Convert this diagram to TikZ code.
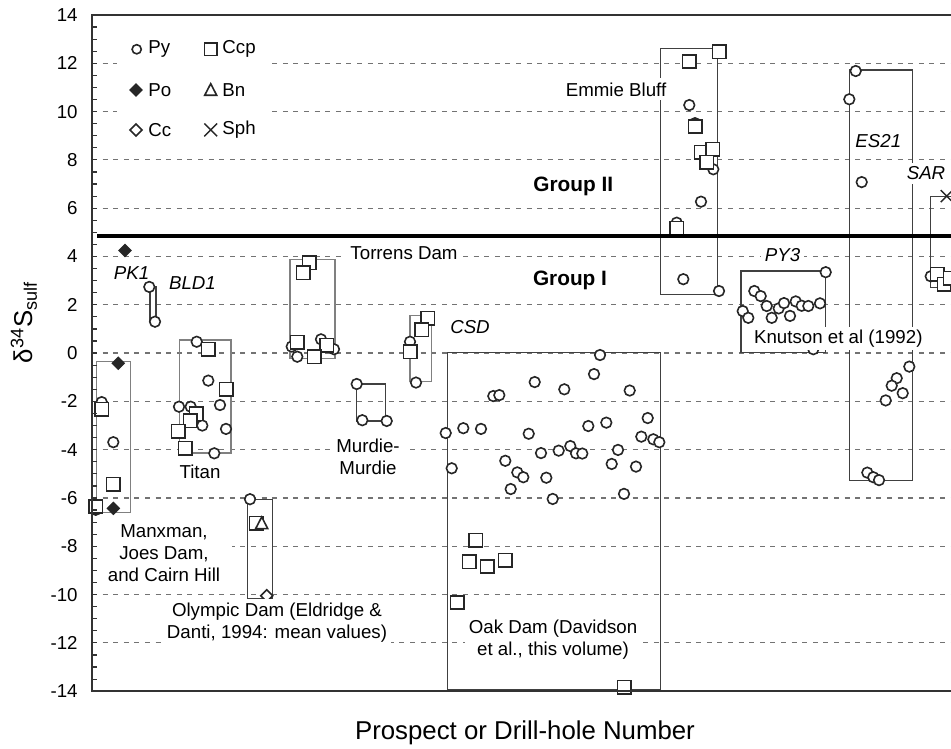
\documentclass[tikz,border=0pt]{standalone}
\usepackage{fontspec}
\setmainfont{Liberation Sans}
\tikzset{
  gridline/.style={black!55, line width=0.6pt, dash pattern=on 2.5pt off 2.8pt},
  holebox/.style={black!75, line width=0.55pt},
  lightbox/.style={black!50, line width=0.6pt},
  pymark/.style={draw=black!85, fill=white, line width=0.8pt},
  ccpmark/.style={draw=black!85, fill=white, line width=0.8pt},
  pomark/.style={draw=black!85, fill=black!85, line width=0.6pt},
  openmark/.style={draw=black!85, fill=white, line width=0.8pt},
  sphmark/.style={draw=black!85, line width=0.7pt},
  label/.style={inner sep=1.5pt},
  whitelabel/.style={fill=white, inner sep=2pt, align=center},
  holename/.style={inner sep=1pt, font=\fontsize{9.35}{11}\selectfont\itshape},
}
\begin{document}
\begin{tikzpicture}[x=0.5pt, y=12.075pt, font=\fontsize{9.35}{11}\selectfont]
        \useasboundingbox (0,-16.393) rectangle (951,14.621);
        \clip (0,-16.393) rectangle (951,14.621);

        \foreach \g in {-12,-10,...,12}
            \draw[gridline] (92,\g) -- (951,\g);% dashed grid
        \fill[white] (117,13.3) rectangle (272,8.5);% legend background

        \draw[holebox] (150,2.74) rectangle (156,1.3);% BLD1
        \draw[lightbox] (96.7,-0.36) rectangle (130.7,-6.6);% Manxman
        \draw[lightbox] (179.3,0.54) rectangle (231,-4.14);% Titan
        \draw[lightbox] (290,3.86) rectangle (335,-0.22);% Torrens Dam
        \draw[lightbox] (410,1.57) rectangle (431.7,-1.18);% CSD
        \draw[holebox] (356.7,-1.28) rectangle (385.7,-2.81);% Murdie-Murdie
        \draw[holebox] (247.3,-6.05) rectangle (272.3,-10.15);% Olympic Dam
        \draw[holebox] (447.3,0.01) rectangle (660.7,-13.95);% Oak Dam
        \draw[holebox] (660.7,12.62) rectangle (717.7,2.43);% Emmie Bluff
        \draw[holebox] (741,3.4) rectangle (825.7,0.02);% PY3
        \draw[holebox] (849.3,11.72) rectangle (912.3,-5.28);% ES21
        \draw[holebox] (930.7,6.5) rectangle (990,2.7);% SAR

        % pyrite
        \foreach \x/\y in {101.7/-2.03, 113.3/-3.69, 95.7/-6.49, 149.3/2.74, 155/1.3,
            196.7/0.47, 208.3/-1.14, 179/-2.22, 190.7/-2.22, 220/-2.15, 202.3/-3.0,
            226/-3.14, 185/-4.0, 214.3/-4.15, 291.7/0.27, 297.3/-0.15, 321/0.57,
            334/0.16, 410/0.47, 416/-1.22, 356.7/-1.28, 362.3/-2.78, 386.7/-2.81,
            250/-6.05}
            \draw[pymark] (\x,\y) circle[radius=2.65pt];
        \foreach \x/\y in {600/-0.08, 594/-0.87, 534.7/-1.2, 564.3/-1.5, 629.7/-1.55,
            493.3/-1.78, 499.3/-1.74, 445.7/-3.31, 463.3/-3.11, 481/-3.14,
            528.7/-3.34, 588.3/-3.02, 606.3/-2.88, 647.7/-2.69, 641.3/-3.46,
            653.3/-3.57, 659.3/-3.69, 541/-4.14, 558.7/-4.04, 570.3/-3.85, 576/-4.15,
            582.3/-4.16, 618/-4.01, 451.7/-4.77, 505.3/-4.46, 517.3/-4.94,
            523.3/-5.14, 546.3/-5.16, 611.7/-4.59, 636/-4.7, 510.7/-5.63,
            552.7/-6.04, 624/-5.83}
            \draw[pymark] (\x,\y) circle[radius=2.65pt];% Oak Dam
        \foreach \x/\y in {689.3/10.27, 695/9.52, 713.3/7.61, 701/6.27, 676.7/5.4,
            683.3/3.06, 719/2.57, 825.7/3.35, 754.3/2.57, 760.7/2.36, 766.7/1.95,
            778.7/1.85, 784/2.07, 795.7/2.14, 801.7/1.96, 808.3/1.95, 820/2.06,
            742.7/1.74, 748.3/1.46, 771.7/1.46, 790/1.54, 813.3/0.16, 855.7/11.68,
            849.3/10.51, 861.7/7.08, 909.3/-0.56, 896.7/-1.04, 891.7/-1.35,
            902.7/-1.66, 885.7/-1.96, 867.3/-4.95, 873.3/-5.14, 879/-5.26,
            930.7/3.18}
            \draw[pymark] (\x,\y) circle[radius=2.65pt];

        % chalcopyrite
        \foreach \x/\y in {101.7/-2.33, 113.3/-5.43, 95.7/-6.35, 208.3/0.16,
            226/-1.49, 196/-2.52, 190/-2.81, 178.3/-3.23, 185/-3.94, 309.3/3.74,
            303.3/3.33, 297.3/0.45, 326.7/0.33, 314.3/-0.15, 427.7/1.44, 421.7/0.96,
            410/0.06, 256/-7.05, 475.7/-7.74, 469.3/-8.64, 487.3/-8.84, 505/-8.57,
            457.3/-10.33, 624/-13.84, 719/12.48, 689/12.07, 695/9.38, 701/8.31,
            712.7/8.45, 706.7/7.9, 676.7/5.17, 937/3.27, 944/2.86, 950/3.1}
            \draw[ccpmark] ([shift={(-3.35pt,-3.35pt)}]\x,\y) rectangle ++(6.7pt,6.7pt);

        % pyrrhotite, bornite, chalcocite, sphalerite
        \foreach \x/\y in {125/4.25, 118.3/-0.42, 113.3/-6.43}
            \draw[pomark] (\x,\y) +(0,3pt) -- +(3pt,0) -- +(0,-3pt) -- +(-3pt,0) -- cycle;
        \draw[openmark] (261.7,-7.05) +(0,3.2pt) -- +(3pt,-2.6pt) -- +(-3pt,-2.6pt) -- cycle;
        \draw[openmark] (266.7,-10.05) +(0,3pt) -- +(3pt,0) -- +(0,-3pt) -- +(-3pt,0) -- cycle;
        \draw[sphmark] (946.7,6.5) +(-3pt,-3pt) -- +(3pt,3pt) +(-3pt,3pt) -- +(3pt,-3pt);

        % legend
        \draw[pymark] (136.7,12.58) circle[radius=2.3pt];
        \draw[pomark] (136,10.89) +(0,3pt) -- +(3pt,0) -- +(0,-3pt) -- +(-3pt,0) -- cycle;
        \draw[openmark] (136,9.24) +(0,3pt) -- +(3pt,0) -- +(0,-3pt) -- +(-3pt,0) -- cycle;
        \draw[ccpmark] ([shift={(-3.2pt,-3.2pt)}]210.7,12.58) rectangle ++(6.4pt,6.4pt);
        \draw[openmark] (210.7,10.89) +(0,3.2pt) -- +(3pt,-2.6pt) -- +(-3pt,-2.6pt) -- cycle;
        \draw[sphmark] (210.7,9.24) +(-3.2pt,-3.2pt) -- +(3.2pt,3.2pt) +(-3.2pt,3.2pt) -- +(3.2pt,-3.2pt);
        \node[label, anchor=west] (py) at (145,12.58) {Py};
        \node[label, anchor=west] (po) at (145,10.89) {Po};
        \node[label, anchor=west] (cc) at (145,9.24) {Cc};
        \node[label, anchor=west] (ccp) at (219,12.58) {Ccp};
        \node[label, anchor=west] (bn) at (219,10.89) {Bn};
        \node[label, anchor=west] (sph) at (219,9.24) {Sph};

        % prospect names
        \node[holename] (pk1) at (131.5,3.3) {PK1};
        \node[holename] (bld1) at (192.5,2.89) {BLD1};
        \node[holename] (csd) at (470,1.07) {CSD};
        \node[holename, fill=white, inner sep=2pt] (py3) at (782.5,4.06) {PY3};
        \node[holename] (es21) at (878.3,8.8) {ES21};
        \node[holename, fill=white, inner sep=2pt] (sar) at (926,7.44) {SAR};
        \node[label] (titan) at (200,-4.91) {Titan};
        \node[whitelabel] (torrens) at (404,4.15) {Torrens Dam};
        \node[whitelabel] (emmie) at (616,10.92) {Emmie Bluff};
        \node[whitelabel] (murdie) at (368,-4.3) {Murdie-\\Murdie};
        \node[whitelabel, minimum width=68pt] (manxman) at (164,-8.29) {Manxman,\\Joes Dam,\\and Cairn Hill};
        \node[whitelabel] (olympic) at (277,-11.15) {Olympic Dam (Eldridge \&\\Danti, 1994: mean values)};
        \node[whitelabel] (oakdam) at (553,-11.87) {Oak Dam (Davidson\\et al., this volume)};
        \node[whitelabel, inner ysep=1.5pt] (knutson) at (838.3,0.61) {Knutson et al (1992)};
        \node[label, font=\fontsize{10.4}{12}\selectfont\bfseries] (group2) at (573.3,6.89) {Group II};
        \node[label, font=\fontsize{10.4}{12}\selectfont\bfseries] (group1) at (570,3.03) {Group I};

        \draw[line width=2pt] (97,4.85) -- (951,4.85);% Group I / Group II divide

        % axes
        \foreach \t in {-14,-13.5,...,14}
            \draw[black!80, line width=0.6pt] (92,\t) -- (97,\t);
        \foreach \t in {-14,-12,...,14}
            \node[inner sep=0pt, anchor=east] at (78,\t) {\t};
        \draw[black!80, line width=1pt] (951,14) -- (92,14) -- (92,-14) -- (951,-14);
        \node[font=\fontsize{12.9}{15}\selectfont] (xtitle) at (525,-15.73) {Prospect or Drill-hole Number};
        \node[font=\fontsize{12.9}{15}\selectfont, rotate=90] (ytitle) at (24,1.27) {δ\textsuperscript{34}S\textsubscript{sulf}};

    \end{tikzpicture}
\end{document}
